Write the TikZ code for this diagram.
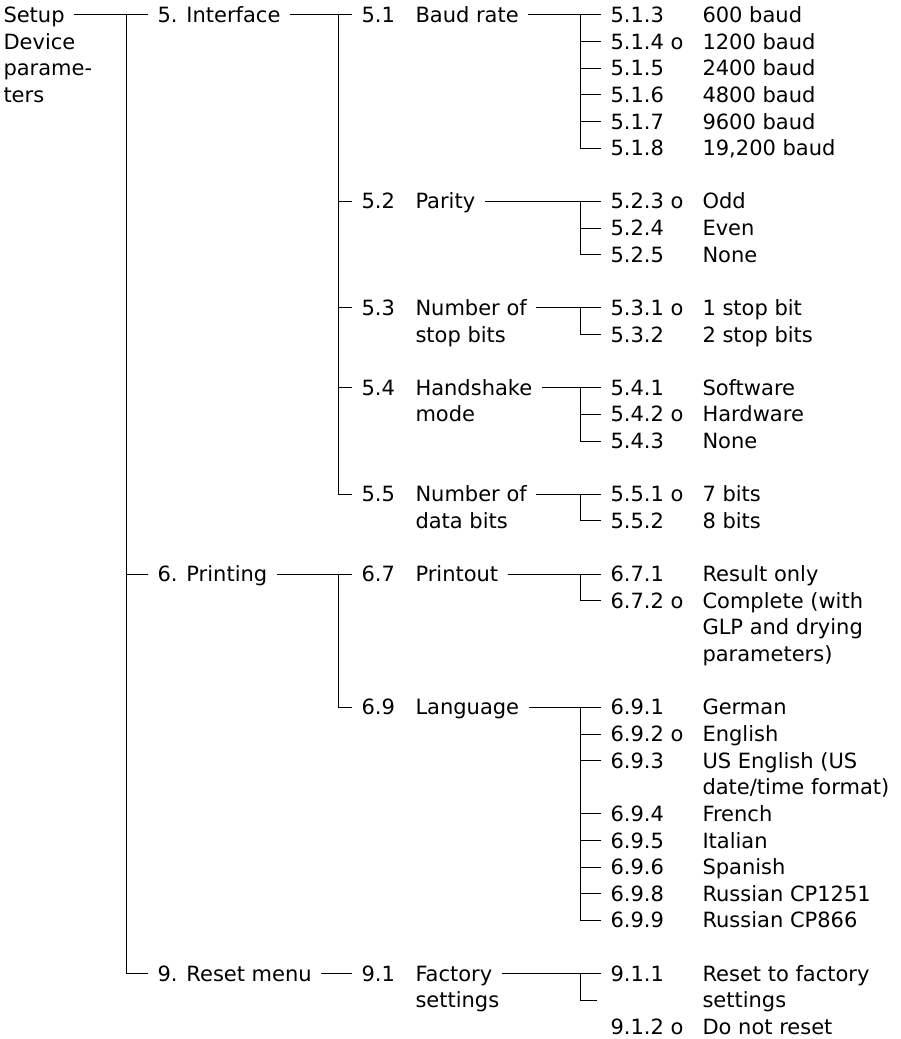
\documentclass[tikz,border=0pt]{standalone}
\usepackage{fontspec}
\setmainfont{DejaVu Sans}
\tikzset{
  item/.style={anchor=west,inner xsep=9pt,inner ysep=0pt,text height=15pt,text depth=0pt},
}
\begin{document}
\begin{tikzpicture}[x=1pt,y=-26.63pt,line width=1pt,font=\fontsize{21}{26}\selectfont]
	\useasboundingbox (0,-0.5633) rectangle (901,38.453);
	% root and first level
	\node[item] (setup) at (-6,0) {Setup};
	\foreach \k/\t in {1/Device,2/parame-,3/ters} \node[item] (setup\k) at (-6,\k) {\t};
	\node[item] (iface) at (148,0) {5. Interface};
	\node[item] (print) at (148,21) {6. Printing};
	\node[item] (reset) at (148,36) {9. Reset menu};
	% second level
	\foreach \p/\k/\num/\t in {baud/0/5.1/Baud rate,par/7/5.2/Parity,stop/11/5.3/Number of,hand/14/5.4/Handshake,data/18/5.5/Number of,pout/21/6.7/Printout,lang/26/6.9/Language,fact/36/9.1/Factory}{
		\node[item] (n\p) at (352,\k) {\num};
		\node[item] (\p) at (406,\k) {\t};
	}
	\foreach \k/\t in {12/stop bits,15/mode,19/data bits,37/settings} \node[item] (s\k) at (406,\k) {\t};
	% settings
	\foreach \k/\num/\t in {0/5.1.3/600 baud,1/5.1.4/1200 baud,2/5.1.5/2400 baud,3/5.1.6/4800 baud,4/5.1.7/9600 baud,5/5.1.8/{19,200 baud},
		7/5.2.3/Odd,8/5.2.4/Even,9/5.2.5/None,11/5.3.1/1 stop bit,12/5.3.2/2 stop bits,
		14/5.4.1/Software,15/5.4.2/Hardware,16/5.4.3/None,18/5.5.1/7 bits,19/5.5.2/8 bits,
		21/6.7.1/Result only,22/6.7.2/Complete (with,26/6.9.1/German,27/6.9.2/English,28/6.9.3/US English (US,
		30/6.9.4/French,31/6.9.5/Italian,32/6.9.6/Spanish,33/6.9.8/Russian CP1251,34/6.9.9/Russian CP866,
		36/9.1.1/Reset to factory,38/9.1.2/Do not reset}{
		\node[item] (r\k) at (601,\k) {\num};
		\node[item] (t\k) at (693,\k) {\t};
	}
	\foreach \k/\t in {23/GLP and drying,24/parameters),29/{date/time format)},37/settings} \node[item] (t\k) at (693,\k) {\t};
	\foreach \k in {1,7,11,15,18,22,27,38} \node[item] (o\k) at (661,\k) {o};
	% connectors
	\coordinate (j0) at (126,0);
	\coordinate (j1) at (338,0);
	\coordinate (j2) at (338,21);
	\foreach \p/\k in {baud/0,par/7,stop/11,hand/14,data/18,pout/21,lang/26,fact/36} \coordinate (j\p) at (580,\k);
	\coordinate (e37) at (597,37);
	\draw (setup.east) -- (iface.west);
	\draw (j0) |- (reset.west);
	\draw (print.west) -- (print.west -| j0);
	\draw (iface.east) -- (nbaud.west);
	\draw (j1) |- (ndata.west);
	\foreach \n in {par,stop,hand} \draw (n\n.west) -- (n\n.west -| j1);
	\draw (print.east) -- (npout.west);
	\draw (j2) |- (nlang.west);
	\draw (reset.east) -- (nfact.west);
	\foreach \p/\k in {baud/0,par/7,stop/11,hand/14,data/18,pout/21,lang/26,fact/36} \draw (\p.east) -- (r\k.west);
	\foreach \p/\k in {baud/5,par/9,stop/12,hand/16,data/19,pout/22,lang/34} \draw (j\p) |- (r\k.west);
	\foreach \p/\k in {baud/1,baud/2,baud/3,baud/4,par/8,hand/15,lang/27,lang/28,lang/30,lang/31,lang/32,lang/33}
		\draw (r\k.west) -- (r\k.west -| j\p);
	\draw (jfact) |- (e37);
\end{tikzpicture}
\end{document}
